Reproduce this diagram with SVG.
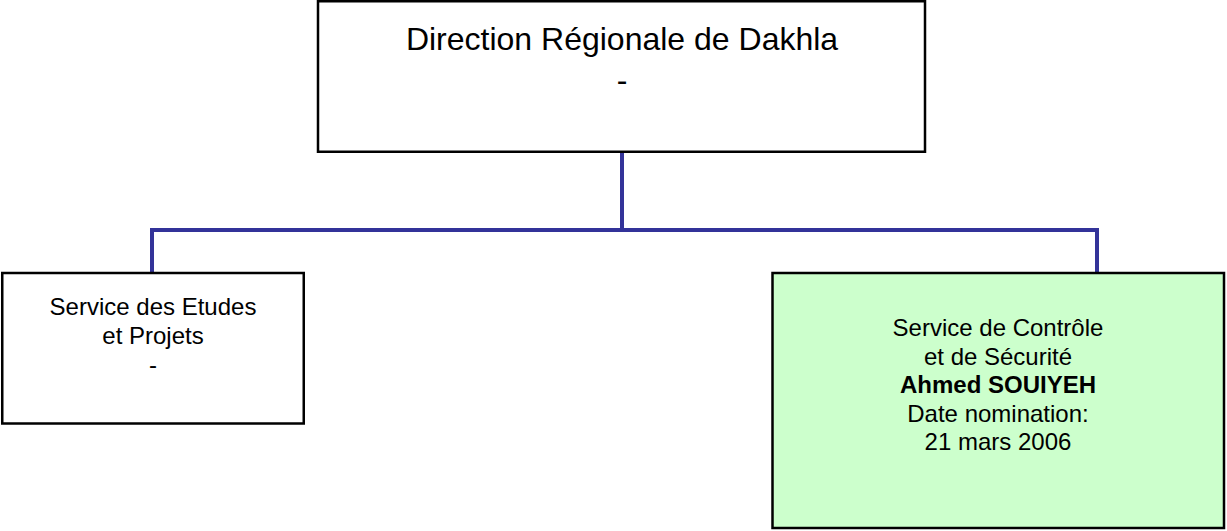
<svg xmlns="http://www.w3.org/2000/svg" width="1227" height="531" viewBox="0 0 1227 531">
<style>
.box{stroke:#000;stroke-width:2.5;}
.conn{fill:none;stroke:#333399;stroke-width:4;}
text{font-family:"Liberation Sans",Arial,sans-serif;fill:#000;text-anchor:middle;}
.t1{font-size:32px;}
.t2{font-size:24px;}
.b{font-weight:bold;}
</style>
<rect width="1227" height="531" fill="#fff"/>
<g id="connectors">
<path class="conn" d="M622,152 V230 M152,230 H1097 M152,228 V273 M1097,228 V273"/>
</g>
<g id="node-direction">
<rect class="box" x="318" y="1.25" width="607" height="150.5" fill="#fff"/>
<text class="t1" x="622" y="50">Direction Régionale de Dakhla</text>
<text class="t1" x="622" y="91">-</text>
</g>
<g id="node-etudes">
<rect class="box" x="2.25" y="273" width="301.5" height="150.5" fill="#fff"/>
<text class="t2" x="153" y="315">Service des Etudes</text>
<text class="t2" x="153" y="344">et Projets</text>
<text class="t2" x="153" y="373">-</text>
</g>
<g id="node-controle">
<rect class="box" x="772.5" y="273" width="451.5" height="255" fill="#CCFFCC"/>
<text class="t2" x="998" y="336">Service de Contrôle</text>
<text class="t2" x="998" y="364.5">et de Sécurité</text>
<text class="t2 b" x="998" y="393">Ahmed SOUIYEH</text>
<text class="t2" x="998" y="421.5">Date nomination:</text>
<text class="t2" x="998" y="450">21 mars 2006</text>
</g>
</svg>
